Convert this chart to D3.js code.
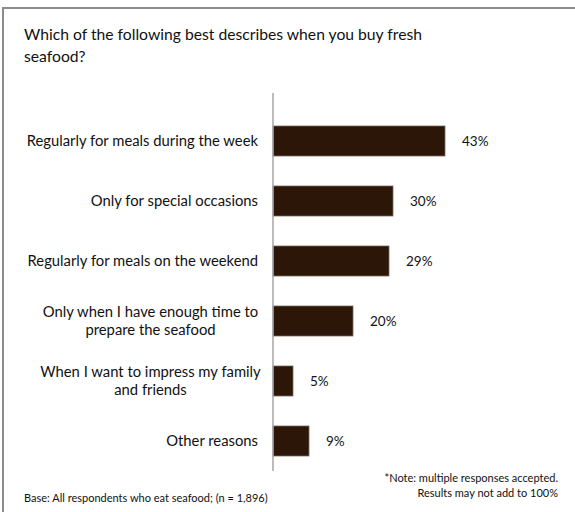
<!DOCTYPE html>
<html>
<head>
<meta charset="utf-8">
<script src="https://cdn.jsdelivr.net/npm/d3@7"></script>
<style>
  body { margin: 0; background: #fff; }
  text { font-family: Lato, "Open Sans", sans-serif; fill: #111; }
</style>
</head>
<body>
<div id="chart"></div>
<script>
// answers, top to bottom (each line of a label is a separate entry)
var categories = [
  ["Regularly for meals during the week"],
  ["Only for special occasions"],
  ["Regularly for meals on the weekend"],
  ["Only when I have enough time to", "prepare the seafood"],
  ["When I want to impress my family", "and friends"],
  ["Other reasons"]
];
var values = [43, 30, 29, 20, 5, 9];

var titleLines = ["Which of the following best describes when you buy fresh", "seafood?"];
var baseNote = "Base: All respondents who eat seafood; (n = 1,896)";
var noteLines = ["*Note: multiple responses accepted.", "Results may not add to 100%"];

var width = 575, height = 512;

var svg = d3.select("#chart").append("svg")
  .attr("width", width)
  .attr("height", height);

// frame around the chart (cut off at right and bottom)
svg.append("rect")
  .attr("x", 3).attr("y", 8)
  .attr("width", 600).attr("height", 520)
  .attr("fill", "none")
  .attr("stroke", "#8c8c8c")
  .attr("stroke-width", 2);

// title
svg.append("text")
  .selectAll("tspan")
  .data(titleLines)
  .enter().append("tspan")
  .attr("x", 24)
  .attr("y", function (d, i) { return 40 + i * 22; })
  .style("font-size", "15.7px")
  .text(function (d) { return d; });

var rows = categories.map(function (c, i) { return { label: c, value: values[i], idx: i }; });

var x = d3.scaleLinear().domain([0, 50]).range([273, 473]);
var y = d3.scaleBand().domain(d3.range(rows.length)).range([111, 471]).paddingInner(0.5).paddingOuter(0.25);

// bars
svg.selectAll("rect.bar")
  .data(rows)
  .enter().append("rect")
  .attr("class", "bar")
  .attr("x", x(0))
  .attr("y", function (d) { return y(d.idx); })
  .attr("width", function (d) { return x(d.value) - x(0); })
  .attr("height", y.bandwidth())
  .attr("fill", "#2b1608")
  .attr("stroke", "#7a6a5e")
  .attr("stroke-width", 0.8);

// vertical axis line
svg.append("line")
  .attr("x1", x(0)).attr("x2", x(0))
  .attr("y1", 93).attr("y2", 471)
  .attr("stroke", "#a6a6a6")
  .attr("stroke-width", 1.5);

// value labels
svg.selectAll("text.val")
  .data(rows)
  .enter().append("text")
  .attr("class", "val")
  .attr("x", function (d) { return x(d.value) + 17; })
  .attr("y", function (d) { return y(d.idx) + y.bandwidth() / 2 + 5; })
  .style("font-size", "13.5px")
  .text(function (d) { return d.value + "%"; });

// category labels
var lab = svg.selectAll("text.cat")
  .data(rows)
  .enter().append("text")
  .attr("class", "cat")
  .style("font-size", "14.8px");

lab.each(function (d) {
  var n = d.label.length;
  var cy = y(d.idx) + y.bandwidth() / 2;
  var t = d3.select(this);
  t.attr("text-anchor", n > 1 ? "middle" : "end");
  d.label.forEach(function (line, j) {
    t.append("tspan")
      .attr("x", n > 1 ? 150.5 : 258)
      .attr("y", cy + 5 + (j - (n - 1) / 2) * 18)
      .text(line);
  });
});

// footnotes
svg.append("text")
  .attr("x", 24).attr("y", 502)
  .style("font-size", "11px")
  .text(baseNote);

svg.append("text")
  .attr("text-anchor", "end")
  .selectAll("tspan")
  .data(noteLines)
  .enter().append("tspan")
  .attr("x", 558)
  .attr("y", function (d, i) { return 482 + i * 15; })
  .style("font-size", "11px")
  .text(function (d) { return d; });
</script>
</body>
</html>
